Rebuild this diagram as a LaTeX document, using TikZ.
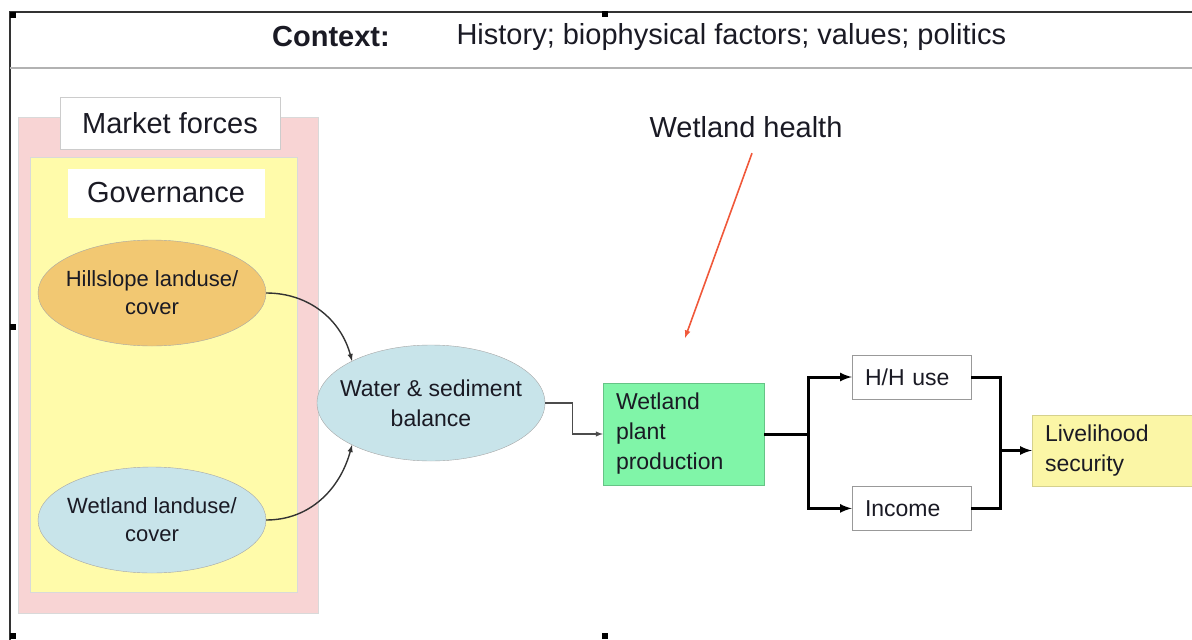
\documentclass[tikz,border=0pt]{standalone}
\usepackage{fontspec}
\setmainfont{Liberation Sans}
\usetikzlibrary{shapes,arrows,positioning}
\definecolor{inkc}{HTML}{1A1A24}
\definecolor{pinkbg}{HTML}{F8D4D4}
\definecolor{yellowbg}{HTML}{FFFBAA}
\definecolor{hillc}{HTML}{F2C872}
\definecolor{bluec}{HTML}{C8E4EA}
\definecolor{greenc}{HTML}{80F5A8}
\definecolor{livec}{HTML}{FBF6A6}
\definecolor{redc}{HTML}{F0583A}
\tikzstyle{blob} = [ellipse, draw=black!35, minimum width=228pt, minimum height=106pt, inner xsep=-14pt, inner ysep=0pt, align=center, text=inkc, font=\fontsize{22}{28}\selectfont]
\tikzstyle{whitelabel} = [fill=white, inner sep=0pt, text=inkc, font=\fontsize{29}{32}\selectfont]
\tikzstyle{outbox} = [draw=black!40, fill=white, rectangle, inner xsep=13pt, inner ysep=0pt, align=left, text=inkc, font=\fontsize{23}{30}\selectfont]
\tikzstyle{flow} = [line width=3pt, black]
\begin{document}
\begin{tikzpicture}[x=1pt,y=-1pt]
\useasboundingbox (0,0) rectangle (1192,640);
% context frame
\draw[line width=2pt, black!80] (10,640) -- (10,12) -- (1192,12);
\draw[line width=1.2pt, black!30] (10,68) -- (1192,68);
\node[text=inkc, font=\fontsize{29}{32}\selectfont\bfseries] (ctx) at (331,37) {Context:};
\node[anchor=west, text=inkc, font=\fontsize{29}{32}\selectfont] (ctxlist) at (453,37) {History; biophysical factors; values; politics};
\foreach \hx/\hy in {13/15,605/14,13/327,13/636,605/636}
  \fill (\hx-3,\hy-3) rectangle ++(6,6);
% market forces and governance
\node[rectangle, fill=pinkbg, draw=black!15, minimum width=300pt, minimum height=496pt] (market) at (168,365) {};
\node[whitelabel, draw=black!20, minimum width=220pt, minimum height=52pt] (marketlbl) at (170,123) {Market forces};
\node[rectangle, fill=yellowbg, draw=black!15, minimum width=267pt, minimum height=435pt] (gov) at (163.5,374.5) {};
\node[whitelabel, minimum width=197pt, minimum height=49pt] (govlbl) at (166,193) {Governance};
\node[blob, fill=hillc] (hill) at (152,293) {Hillslope landuse/\\cover};
\node[blob, fill=bluec] (wetuse) at (152,520) {Wetland landuse/\\cover};
\node[blob, fill=bluec, minimum width=228pt, minimum height=116pt, font=\fontsize{23}{30}\selectfont] (water) at (431,403) {Water \& sediment\\balance};
\draw[-latex, line width=1.4pt, black!80] (hill.east) to[out=0,in=105] (water.152);
\draw[-latex, line width=1.4pt, black!80] (wetuse.east) to[out=0,in=-105] (water.208);
% production and outcomes
\node[outbox, fill=greenc, draw=greenc!80!black, text width=135pt, minimum height=102pt] (plant) at (683.5,434) {Wetland\\plant\\production};
\draw[-latex, line width=1.4pt, black!70] (water.east) -- ++(27,0) |- (plant.west);
\node[outbox, text width=93pt, minimum height=44pt] (hh) at (911.5,377) {H/H use};
\node[outbox, text width=93pt, minimum height=44pt, below=87pt of hh] (income) {Income};
\node[outbox, fill=livec, draw=livec!85!black, text width=134pt, minimum height=71pt] (live) at (1112,450.5) {Livelihood\\security};
\coordinate (split) at (808,434);
\coordinate (join) at (1000,450.5);
\draw[flow] (plant.east) -- (split);
\draw[flow, -latex] (split) |- (hh.west);
\draw[flow, -latex] (split) |- (income.west);
\draw[flow] (hh.east) -| (join);
\draw[flow] (income.east) -| (join);
\draw[flow, -latex] (join) -- (live.west);
% wetland health
\node[text=inkc, font=\fontsize{29}{32}\selectfont] (health) at (746,127) {Wetland health};
\coordinate (hpoint) at (685,338);
\draw[-latex, line width=1.6pt, redc] ([shift={(6,12)}]health.south) -- (hpoint);
\end{tikzpicture}
\end{document}
